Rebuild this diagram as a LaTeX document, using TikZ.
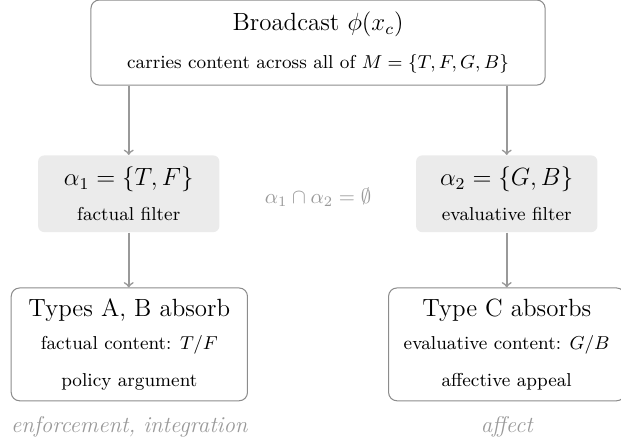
\documentclass[tikz,border=0pt]{standalone}
\begin{document}
\begin{tikzpicture}[x=1cm,y=1cm,
    box/.style={draw=black!45, line width=0.5pt, rounded corners=4pt, align=center, font=\small, minimum width=4cm, minimum height=1.91cm},
    filterbox/.style={fill=black!8, rounded corners=3pt, align=center, font=\small, minimum width=3.07cm, minimum height=1.3cm},
    flow/.style={->, draw=black!40, line width=0.8pt},
    note/.style={text=black!40, font=\fontsize{11pt}{13pt}\selectfont\itshape}]
    \useasboundingbox (0,0) rectangle (10.515,7.501);
    \node[box, minimum width=7.69cm, minimum height=1.44cm] (bcast) at (5.385,6.78) {{\large Broadcast $\phi(x_c)$}\\[7pt] carries content across all of $M = \{T, F, G, B\}$};
    \node[filterbox] (fact) at (2.18,4.22) {{\large $\alpha_1 = \{T, F\}$}\\[6pt] factual filter};
    \node[filterbox] (eval) at (8.58,4.22) {{\large $\alpha_2 = \{G, B\}$}\\[6pt] evaluative filter};
    \node[text=black!40] (disj) at (5.385,4.16) {$\alpha_1 \cap \alpha_2 = \emptyset$};
    \node[box] (typeab) at (2.19,1.67) {{\large Types A, B absorb}\\[5pt] factual content: $T/F$\\[7pt] policy argument};
    \node[box] (typec) at (8.58,1.67) {{\large Type C absorbs}\\[5pt] evaluative content: $G/B$\\[7pt] affective appeal};
    \node[note, anchor=north] (effab) at ([yshift=-0.14cm]typeab.south) {enforcement, integration};
    \node[note, anchor=north] (effc) at ([yshift=-0.14cm]typec.south) {affect};
    \draw[flow] (bcast.south -| fact.north) -- (fact.north);
    \draw[flow] (bcast.south -| eval.north) -- (eval.north);
    \draw[flow] (fact.south) -- (typeab.north -| fact.south);
    \draw[flow] (eval.south) -- (typec.north -| eval.south);
\end{tikzpicture}
\end{document}
